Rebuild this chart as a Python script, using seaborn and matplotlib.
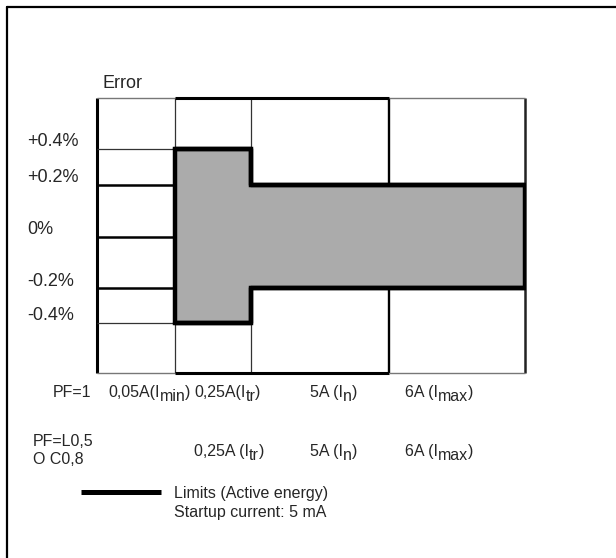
import numpy as np
import matplotlib.pyplot as plt
import seaborn as sns
from matplotlib.lines import Line2D

# current points on the x axis (A)
currents = [0.05, 0.25, 5, 6]
# accuracy limits (+/- %) starting at each break point
limit_x = [0.05, 0.25, 6]
limit_err = [0.4, 0.2, 0.2]
# error axis
err_levels = [0.4, 0.2, 0, -0.2, -0.4]
err_labels = ["+0.4%", "+0.2%", "0%", "-0.2%", "-0.4%"]
# tick labels: (text, subscript, closing)
pf1_labels = [("0,05A(I", "min", ")"), ("0,25A(I", "tr", ")"),
              ("5A (I", "n", ")"), ("6A (I", "max", ")")]
pf2_currents = [0.25, 5, 6]
pf2_labels = [("0,25A (I", "tr", ")"), ("5A (I", "n", ")"), ("6A (I", "max", ")")]
legend_text = ["Limits (Active energy)", "Startup current: 5 mA"]

sns.set_style("white")
plt.rcParams['font.family'] = ['Liberation Sans', 'DejaVu Sans']

fig = plt.figure(figsize=(6.16, 5.58), dpi=100)
ax = fig.add_axes([97 / 616, 1 - 373 / 558, 428 / 616, 275 / 558])

# the diagram is schematic, so both axes use a piecewise scale
x_ref = [0, 0.05, 0.25, 5, 6]
x_pix = [0, 78, 154, 292, 428]
y_ref = [-0.6, -0.4, -0.2, 0, 0.2, 0.4, 0.6]
y_pix = [-136, -86, -51, 0, 52, 88, 139]

ax.set_xscale('function', functions=(lambda v: np.interp(v, x_ref, x_pix),
                                     lambda p: np.interp(p, x_pix, x_ref)))
ax.set_yscale('function', functions=(lambda v: np.interp(v, y_ref, y_pix),
                                     lambda p: np.interp(p, y_pix, y_ref)))
ytop = 0.6

# grid
ax.vlines(0, -ytop, ytop, color='black', lw=2.2, zorder=1, clip_on=False)
ax.vlines(currents[:2], -ytop, ytop, color='#333333', lw=0.9, zorder=1, clip_on=False)
ax.vlines(currents[2], -ytop, ytop, color='black', lw=1.7, zorder=1, clip_on=False)
ax.vlines(currents[3], -ytop, ytop, color='#222222', lw=1.8, zorder=1, clip_on=False)
for yy in [ytop, -ytop]:
    ax.hlines(yy, 0, currents[0], color='#777777', lw=1.0, zorder=1, clip_on=False)
    ax.hlines(yy, currents[0], currents[2], color='black', lw=2.2, zorder=1, clip_on=False)
    ax.hlines(yy, currents[2], currents[3], color='#777777', lw=1.0, zorder=1, clip_on=False)
ax.hlines([0.4, -0.4], 0, currents[0], color='#333333', lw=0.9, zorder=1)
ax.hlines([0.2, 0, -0.2], 0, currents[0], color='black', lw=1.8, zorder=1)

# limit area
lower = [-v for v in limit_err]
ax.fill_between(limit_x, lower, limit_err, step='post', facecolor='#ABABAB',
                edgecolor='black', lw=3.2, joinstyle='miter', zorder=2)
sns.lineplot(x=limit_x, y=limit_err, drawstyle='steps-post', color='black', lw=3.2, ax=ax, zorder=3)
sns.lineplot(x=limit_x, y=lower, drawstyle='steps-post', color='black', lw=3.2, ax=ax, zorder=3)

ax.set_xlim(0, 6)
ax.set_ylim(-ytop, ytop)
ax.set_xticks([])
ax.set_yticks([])
ax.set_xlabel('')
ax.set_ylabel('')
sns.despine(ax=ax, left=True, bottom=True)

# error labels
for val, lab in zip(err_levels, err_labels):
    ax.annotate(lab, xy=(0, val), xycoords=('axes fraction', 'data'), xytext=(-70, 7),
                textcoords='offset pixels', ha='left', va='center', fontsize=13)
ax.annotate("Error", xy=(0, 1), xycoords='axes fraction', xytext=(5, 15),
            textcoords='offset pixels', ha='left', va='center', fontsize=13)


def sub_label(parts, x, dx, dy, fs=11.5):
    main, sub, tail = parts
    t1 = ax.annotate(main, xy=(x, 0), xycoords=('data', 'axes fraction'), xytext=(dx, dy),
                     textcoords='offset pixels', ha='left', va='baseline', fontsize=fs,
                     annotation_clip=False)
    t2 = ax.annotate(sub, xy=(1, 0), xycoords=t1, xytext=(0, -4), textcoords='offset pixels',
                     ha='left', va='bottom', fontsize=fs)
    ax.annotate(tail, xy=(1, 0), xycoords=t2, xytext=(0, 4), textcoords='offset pixels',
                ha='left', va='bottom', fontsize=fs)


for parts, cur, dx in zip(pf1_labels, currents, [-67, -57, -79, -120]):
    sub_label(parts, cur, dx, -24)
for parts, cur, dx in zip(pf2_labels, pf2_currents, [-57, -79, -120]):
    sub_label(parts, cur, dx, -83)

ax.annotate("PF=1", xy=(0, 0), xycoords='axes fraction', xytext=(-44, -24),
            textcoords='offset pixels', ha='left', va='baseline', fontsize=11.5)
ax.annotate("PF=L0,5\nO C0,8", xy=(0, 0), xycoords='axes fraction', xytext=(-64, -78),
            textcoords='offset pixels', ha='left', va='center', fontsize=11.5, linespacing=1.25)

# legend
handles = [Line2D([], [], color='black', lw=3.6, solid_capstyle='butt'),
           Line2D([], [], color='none')]
fig.legend(handles, legend_text, loc='center left', bbox_to_anchor=(81 / 616, 1 - 503 / 558),
           frameon=False, fontsize=11.5, handlelength=5, handletextpad=0.8,
           borderpad=0, borderaxespad=0, labelspacing=0.3)

# outer frame
fig.add_artist(Line2D([7 / 616, 7 / 616], [0, 1 - 7 / 558], transform=fig.transFigure,
                      color='black', lw=1.6))
fig.add_artist(Line2D([7 / 616, 1], [1 - 7 / 558, 1 - 7 / 558], transform=fig.transFigure,
                      color='black', lw=1.6))

fig.savefig("out.png", dpi=100, facecolor='white')
